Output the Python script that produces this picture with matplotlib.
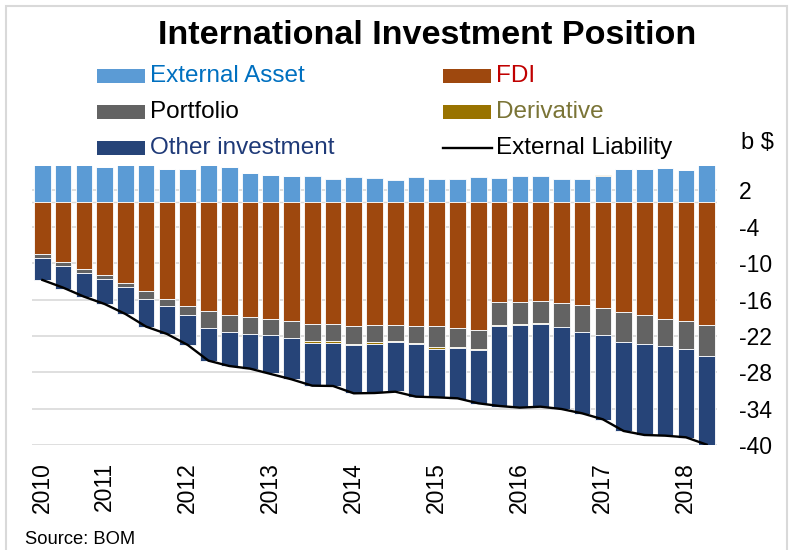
import numpy as np
import matplotlib
matplotlib.use("Agg")
import matplotlib.pyplot as plt
from matplotlib.patches import Rectangle
from matplotlib.lines import Line2D

plt.rcParams["font.family"] = ["Liberation Sans", "DejaVu Sans"]

# Quarterly observations, 2010 Q2 - 2018 Q2 (billion $)
quarters = [f"{y}Q{q}" for y in range(2010, 2019) for q in range(1, 5)][1:34]

external_asset = [6.2, 6.2, 6.2, 5.85, 6.2, 6.2, 5.46, 5.46, 6.2, 5.85, 4.86,
                  4.53, 4.31, 4.37, 3.82, 4.15, 3.98, 3.65, 4.25, 3.93, 3.87,
                  4.2, 4.09, 4.31, 4.31, 3.82, 3.87, 4.37, 5.45, 5.57, 5.68,
                  5.35, 6.2]
fdi = [-8.5, -9.8, -10.96, -12.0, -13.3, -14.6, -15.9, -17.05, -17.8, -18.5,
       -18.9, -19.2, -19.6, -19.97, -20.0, -20.3, -20.2, -20.2, -20.35, -20.4,
       -20.73, -20.95, -16.45, -16.34, -16.28, -16.6, -16.94, -17.43, -18.09,
       -18.53, -19.19, -19.58, -20.24]
portfolio = [-0.6, -0.6, -0.64, -0.6, -0.7, -1.3, -1.15, -1.55, -2.8, -2.9,
             -2.8, -2.7, -2.7, -2.83, -2.9, -3.0, -2.8, -2.6, -2.74, -3.46,
             -3.02, -3.13, -3.68, -3.62, -3.62, -3.86, -4.34, -4.45, -4.95,
             -4.84, -4.4, -4.55, -4.99]
derivative = [0, 0, 0, 0, 0, 0, 0, 0, 0, 0, 0, 0, 0, -0.3, -0.3, -0.25, -0.25,
              -0.25, -0.15, -0.2, -0.2, -0.2, -0.2, -0.2, -0.2, -0.1, -0.05,
              0.15, 0.12, 0, 0, 0, 0]
other_investment = [-3.67, -3.8, -3.91, -4.07, -4.42, -4.61, -4.61, -4.93,
                    -5.46, -5.54, -5.73, -6.24, -6.72, -7.08, -6.98, -7.89,
                    -8.08, -8.06, -8.76, -7.94, -8.48, -8.97, -13.31, -13.75,
                    -13.54, -13.51, -13.51, -13.95, -14.6, -14.93, -14.82,
                    -14.61, -14.72]
external_liability = [-12.77, -14.03, -15.51, -16.73, -18.37, -20.46, -21.66,
                      -23.47, -26.06, -26.94, -27.37, -28.25, -29.13, -30.18,
                      -30.23, -31.44, -31.39, -31.17, -31.99, -32.1, -32.26,
                      -33.08, -33.52, -33.8, -33.64, -34.02, -34.73, -35.72,
                      -37.64, -38.3, -38.41, -38.68, -39.89]
y_ticks = list(range(-40, 3, 6))

C_ASSET = "#5B9BD5"
C_FDI = "#9E480E"
C_PORT = "#636363"
C_DERIV = "#997300"
C_OTHER = "#264478"

W, H = 792, 550
fig = plt.figure(figsize=(W / 100, H / 100), dpi=100)

def fx(px):
    return px / W

def fy(py):
    return 1 - py / H

# chart border
fig.add_artist(Rectangle((fx(6), -0.1), fx(781), fy(6) + 0.1,
                         transform=fig.transFigure, fill=False,
                         edgecolor="#D9D9D9", lw=1.5))

ax = fig.add_axes([fx(32), fy(445.3), fx(685), (445.3 - 166) / H])
x = np.arange(len(quarters))
bw = 0.8
edge = dict(edgecolor="white", linewidth=0.6)

series = [
    (external_asset, C_ASSET),
    (fdi, C_FDI),
    (portfolio, C_PORT),
    (derivative, C_DERIV),
    (other_investment, C_OTHER),
]
pos_base = np.zeros(len(x))
neg_base = np.zeros(len(x))
for vals, col in series:
    v = np.asarray(vals, dtype=float)
    base = np.where(v >= 0, pos_base, neg_base)
    ax.bar(x, v, bw, bottom=base, color=col, zorder=2, **edge)
    pos_base = pos_base + np.clip(v, 0, None)
    neg_base = neg_base + np.clip(v, None, 0)

ax.plot(x, external_liability, color="black", lw=1.7, zorder=4)

ax.set_xlim(-0.5, len(x) - 0.5)
ax.set_ylim(-40, 6)
for t in y_ticks:
    ax.axhline(t, color="#D9D9D9", lw=1.2, zorder=1)
ax.axhline(0, color="#D9D9D9", lw=1.0, zorder=1)

ax.yaxis.tick_right()
ax.set_yticks(y_ticks)
ax.set_yticklabels([str(t) for t in y_ticks], fontsize=16.5)
ax.tick_params(axis="y", length=0, pad=16)

tick_idx = [0] + [i for i, q in enumerate(quarters) if q.endswith("Q1")]
ax.set_xticks(tick_idx)
ax.set_xticklabels([quarters[i][:4] for i in tick_idx], rotation=90,
                   fontsize=16.5)
ax.tick_params(axis="x", length=0, pad=12)
for s in ax.spines.values():
    s.set_visible(False)

# title and unit
fig.text(fx(427), fy(44), "International Investment Position", ha="center",
         va="baseline", fontsize=24.6, fontweight="bold")
fig.text(fx(741), fy(143), "b $", ha="left", va="center", fontsize=17)
fig.text(fx(25), fy(540), "Source: BOM", ha="left", va="center", fontsize=13.2)

# legend
legend_items = [
    (97, 76, "External Asset", C_ASSET, "#0070C0", "patch"),
    (443, 76, "FDI", C_FDI, "#C00000", "patch"),
    (97, 112, "Portfolio", C_PORT, "black", "patch"),
    (443, 112, "Derivative", C_DERIV, "#7A7436", "patch"),
    (97, 148, "Other investment", C_OTHER, "#1F3A78", "patch"),
    (443, 148, "External Liability", "black", "black", "line"),
]
for px, py, label, col, tcol, kind in legend_items:
    if kind == "patch":
        fig.add_artist(Rectangle((fx(px), fy(py + 6.5)), fx(48), 13 / H,
                                 transform=fig.transFigure, facecolor=col,
                                 edgecolor="none"))
    else:
        fig.add_artist(Line2D([fx(px), fx(px + 49)], [fy(py), fy(py)],
                              transform=fig.transFigure, color=col, lw=1.7))
    fig.text(fx(px + 53), fy(py), label, ha="left", va="center",
             fontsize=17.5, color=tcol)

fig.savefig("out.png", dpi=100)
